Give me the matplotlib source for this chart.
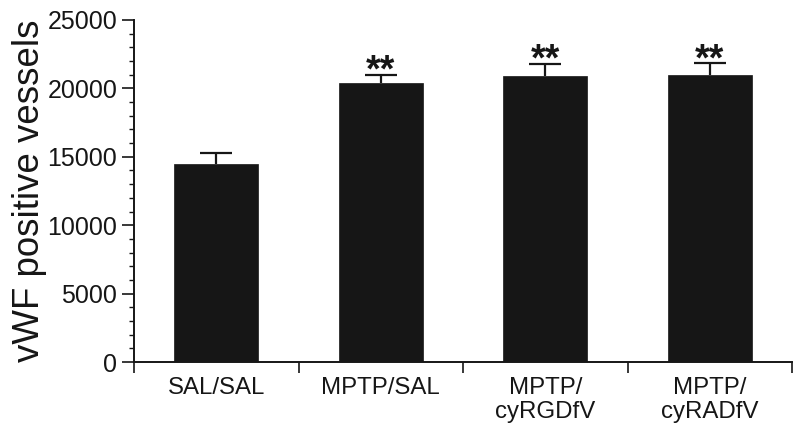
import matplotlib
matplotlib.use('Agg')
import matplotlib.pyplot as plt
from matplotlib.ticker import MultipleLocator, FixedLocator

plt.rcParams['font.family'] = ['Liberation Sans', 'DejaVu Sans']

# data
groups = ['SAL/SAL', 'MPTP/SAL', 'MPTP/\ncyRGDfV', 'MPTP/\ncyRADfV']
vessels = [14450, 20400, 20900, 21000]
sem = [820, 600, 900, 830]
marks = ['', '**', '**', '**']

ink = '#161616'

fig = plt.figure(figsize=(8, 4.37), dpi=100)
ax = fig.add_axes([134 / 800, 1 - 362 / 437, (792 - 134) / 800, 342 / 437])

x = range(len(groups))
ax.bar(x, vessels, width=0.51, color=ink, edgecolor=ink, linewidth=0.5, zorder=2)
eb = ax.errorbar(x, vessels, yerr=[[0] * len(sem), sem], fmt='none', ecolor=ink,
                 elinewidth=1.6, capsize=11.5, capthick=1.6, zorder=3)
# upper error only: hide the cap sitting on the bar top
eb[1][0].set_visible(False)

for i, (v, e, m) in enumerate(zip(vessels, sem, marks)):
    if m:
        ax.annotate(m, xy=(i, v + e), xytext=(0, -5), textcoords='offset points',
                    ha='center', va='baseline', fontsize=27, fontweight='bold',
                    color=ink)

ax.set_xlim(-0.5, len(groups) - 0.5)
ax.set_ylim(0, 25000)

for side in ['top', 'right']:
    ax.spines[side].set_visible(False)
for side in ['left', 'bottom']:
    ax.spines[side].set_linewidth(1.4)
    ax.spines[side].set_color(ink)

# y axis
ax.yaxis.set_major_locator(MultipleLocator(5000))
ax.yaxis.set_minor_locator(MultipleLocator(1000))
ax.tick_params(axis='y', which='major', length=9, width=1.2, color=ink,
               labelsize=18, labelcolor=ink, pad=3)
ax.tick_params(axis='y', which='minor', length=3.8, width=1.0, color=ink)

# x axis: separator ticks between groups, labels in the middle
ax.xaxis.set_major_locator(FixedLocator([k - 0.5 for k in range(len(groups) + 1)]))
ax.xaxis.set_minor_locator(FixedLocator(list(x)))
ax.set_xticklabels([], minor=False)
ax.set_xticklabels(groups, minor=True, linespacing=1.1)
ax.tick_params(axis='x', which='major', length=8, width=1.2, color=ink, direction='out')
ax.tick_params(axis='x', which='minor', length=0, labelsize=17.3, labelcolor=ink, pad=11)

ax.set_ylabel('vWF positive vessels', fontsize=26.4, color=ink)
ax.yaxis.set_label_coords(-0.132, 0.5)

fig.savefig('out.png', dpi=100)
